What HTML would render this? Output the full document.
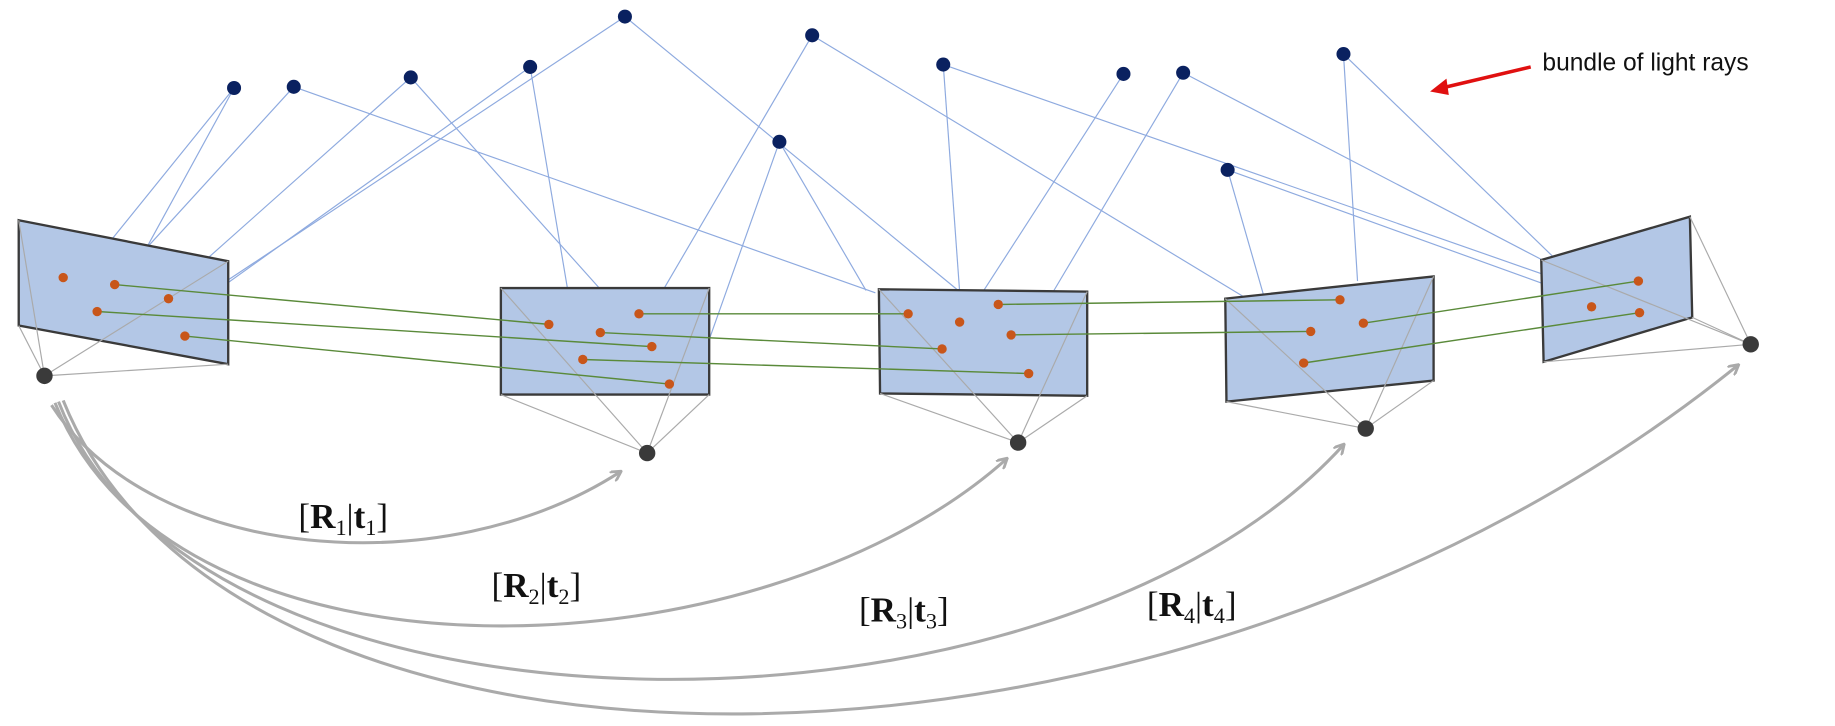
<!DOCTYPE html>
<html><head><style>html,body{margin:0;padding:0;background:#fff}svg{display:block}</style></head>
<body>
<svg width="1835" height="726" viewBox="0 0 1568 620" xmlns="http://www.w3.org/2000/svg">
<defs>
<marker id="ah" markerWidth="10" markerHeight="10" refX="8" refY="5" orient="auto" markerUnits="userSpaceOnUse">
<path d="M0,0 L9,5 L0,10" fill="none" stroke="#aaa" stroke-width="2.4"/>
</marker>
</defs>
<g stroke="#8eaadf" stroke-width="1" fill="none">
<line x1="200" y1="75" x2="95" y2="205"/>
<line x1="200" y1="75" x2="125" y2="212"/>
<line x1="251" y1="74" x2="125" y2="212"/>
<line x1="251" y1="74" x2="748" y2="250"/>
<line x1="351" y1="66" x2="178" y2="220"/>
<line x1="351" y1="66" x2="513" y2="247"/>
<line x1="453" y1="57" x2="180" y2="252"/>
<line x1="453" y1="57" x2="485" y2="247"/>
<line x1="534" y1="14" x2="195" y2="239"/>
<line x1="534" y1="14" x2="820" y2="249"/>
<line x1="694" y1="30" x2="567" y2="247"/>
<line x1="694" y1="30" x2="1062" y2="253"/>
<line x1="666" y1="121" x2="606" y2="290"/>
<line x1="666" y1="121" x2="740" y2="248"/>
<line x1="806" y1="55" x2="820" y2="249"/>
<line x1="806" y1="55" x2="1318" y2="234"/>
<line x1="960" y1="63" x2="840" y2="249"/>
<line x1="1011" y1="62" x2="900" y2="249"/>
<line x1="1011" y1="62" x2="1318" y2="222"/>
<line x1="1049" y1="145" x2="1080" y2="253"/>
<line x1="1049" y1="145" x2="1318" y2="242"/>
<line x1="1148" y1="46" x2="1160" y2="240"/>
<line x1="1148" y1="46" x2="1330" y2="222"/>
</g>
<g fill="#b3c7e6" stroke="#3a3a3a" stroke-width="2">
<polygon points="16,188 195,223 195,311 16,278"/>
<polygon points="428,246 606,246 606,337 428,337"/>
<polygon points="751,247 929,249 929,338 752,336"/>
<polygon points="1047,255 1225,236 1225,325 1048,343"/>
<polygon points="1317,222 1444,185 1446,271 1319,309"/>
</g>
<g stroke="#aaa" stroke-width="1" fill="none">
<line x1="38" y1="321" x2="16" y2="188"/><line x1="38" y1="321" x2="195" y2="223"/>
<line x1="38" y1="321" x2="16" y2="278"/><line x1="38" y1="321" x2="195" y2="311"/>
<line x1="553" y1="387" x2="428" y2="246"/><line x1="553" y1="387" x2="606" y2="246"/>
<line x1="553" y1="387" x2="428" y2="337"/><line x1="553" y1="387" x2="606" y2="337"/>
<line x1="870" y1="378" x2="751" y2="247"/><line x1="870" y1="378" x2="929" y2="249"/>
<line x1="870" y1="378" x2="752" y2="336"/><line x1="870" y1="378" x2="929" y2="338"/>
<line x1="1167" y1="366" x2="1047" y2="255"/><line x1="1167" y1="366" x2="1225" y2="236"/>
<line x1="1167" y1="366" x2="1048" y2="343"/><line x1="1167" y1="366" x2="1225" y2="325"/>
<line x1="1496" y1="294" x2="1317" y2="222"/><line x1="1496" y1="294" x2="1444" y2="185"/>
<line x1="1496" y1="294" x2="1319" y2="309"/><line x1="1496" y1="294" x2="1446" y2="271"/>
</g>
<g stroke="#5a8a3a" stroke-width="1.2" fill="none">
<line x1="98" y1="243" x2="469" y2="277"/>
<line x1="83" y1="266" x2="557" y2="296"/>
<line x1="158" y1="287" x2="572" y2="328"/>
<line x1="546" y1="268" x2="776" y2="268"/>
<line x1="513" y1="284" x2="805" y2="298"/>
<line x1="498" y1="307" x2="879" y2="319"/>
<line x1="853" y1="260" x2="1145" y2="256"/>
<line x1="864" y1="286" x2="1120" y2="283"/>
<line x1="1165" y1="276" x2="1400" y2="240"/>
<line x1="1114" y1="310" x2="1401" y2="267"/>
</g>
<g fill="#c8561a">
<circle cx="54" cy="237" r="4"/><circle cx="98" cy="243" r="4"/><circle cx="144" cy="255" r="4"/><circle cx="83" cy="266" r="4"/><circle cx="158" cy="287" r="4"/>
<circle cx="469" cy="277" r="4"/><circle cx="513" cy="284" r="4"/><circle cx="546" cy="268" r="4"/><circle cx="498" cy="307" r="4"/><circle cx="557" cy="296" r="4"/><circle cx="572" cy="328" r="4"/>
<circle cx="776" cy="268" r="4"/><circle cx="820" cy="275" r="4"/><circle cx="853" cy="260" r="4"/><circle cx="805" cy="298" r="4"/><circle cx="864" cy="286" r="4"/><circle cx="879" cy="319" r="4"/>
<circle cx="1145" cy="256" r="4"/><circle cx="1120" cy="283" r="4"/><circle cx="1165" cy="276" r="4"/><circle cx="1114" cy="310" r="4"/>
<circle cx="1400" cy="240" r="4"/><circle cx="1360" cy="262" r="4"/><circle cx="1401" cy="267" r="4"/>
</g>
<g fill="#0a2160">
<circle cx="200" cy="75" r="6"/><circle cx="251" cy="74" r="6"/><circle cx="351" cy="66" r="6"/><circle cx="453" cy="57" r="6"/><circle cx="534" cy="14" r="6"/><circle cx="694" cy="30" r="6"/><circle cx="666" cy="121" r="6"/><circle cx="806" cy="55" r="6"/><circle cx="960" cy="63" r="6"/><circle cx="1011" cy="62" r="6"/><circle cx="1049" cy="145" r="6"/><circle cx="1148" cy="46" r="6"/>
</g>
<g fill="#3a3a3a">
<circle cx="38" cy="321" r="7"/><circle cx="553" cy="387" r="7"/><circle cx="870" cy="378" r="7"/><circle cx="1167" cy="366" r="7"/><circle cx="1496" cy="294" r="7"/>
</g>
<g stroke="#aaa" stroke-width="2.6" fill="none" marker-end="url(#ah)">
<path d="M44,346 C130,480 380,500 530,403"/>
<path d="M47,344 C150,600 650,580 860,392"/>
<path d="M50,343 C170,653 900,653 1148,380"/>
<path d="M54,342 C200,704 1000,704 1485,312"/>
</g>
<g font-family="'Liberation Serif',serif" font-size="30" fill="#111">
<text x="255" y="451">[<tspan font-weight="bold">R</tspan><tspan font-size="19" dy="6">1</tspan><tspan dy="-6">|</tspan><tspan font-weight="bold">t</tspan><tspan font-size="19" dy="6">1</tspan><tspan dy="-6">]</tspan></text>
<text x="420" y="510">[<tspan font-weight="bold">R</tspan><tspan font-size="19" dy="6">2</tspan><tspan dy="-6">|</tspan><tspan font-weight="bold">t</tspan><tspan font-size="19" dy="6">2</tspan><tspan dy="-6">]</tspan></text>
<text x="734" y="531">[<tspan font-weight="bold">R</tspan><tspan font-size="19" dy="6">3</tspan><tspan dy="-6">|</tspan><tspan font-weight="bold">t</tspan><tspan font-size="19" dy="6">3</tspan><tspan dy="-6">]</tspan></text>
<text x="980" y="526">[<tspan font-weight="bold">R</tspan><tspan font-size="19" dy="6">4</tspan><tspan dy="-6">|</tspan><tspan font-weight="bold">t</tspan><tspan font-size="19" dy="6">4</tspan><tspan dy="-6">]</tspan></text>
</g>
<line x1="1308" y1="57" x2="1232" y2="75" stroke="#e01010" stroke-width="3"/>
<polygon points="1222,78 1236,67 1238,81" fill="#e01010"/>
<text x="1318" y="60" font-family="'Liberation Sans',sans-serif" font-size="21" fill="#111">bundle of light rays</text>
</svg>
</body></html>
